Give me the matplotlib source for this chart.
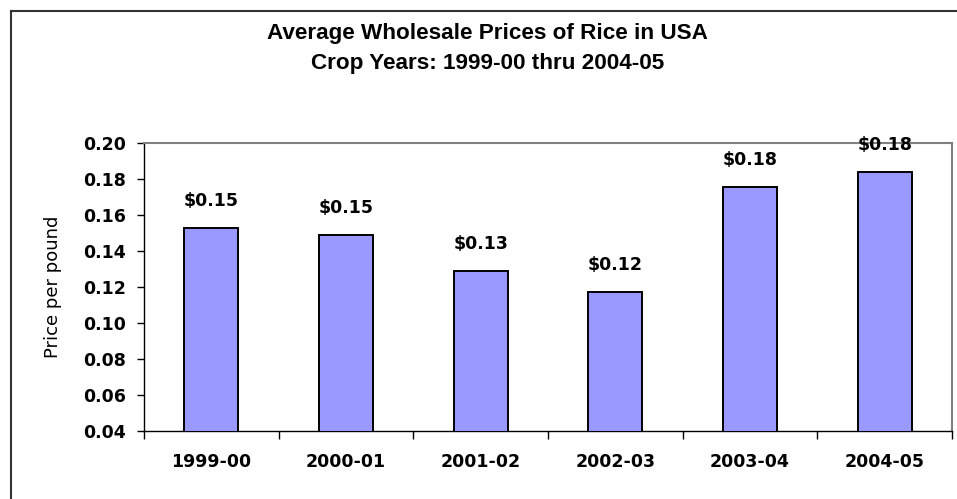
import matplotlib
matplotlib.use("Agg")
import matplotlib.pyplot as plt
from matplotlib.lines import Line2D
import numpy as np

plt.rcParams['font.family'] = ['Liberation Sans', 'DejaVu Sans']

# crop years and average prices (dollars per pound)
years = ['1999-00', '2000-01', '2001-02', '2002-03', '2003-04', '2004-05']
prices = [0.153, 0.149, 0.129, 0.117, 0.1755, 0.184]
yticks = [0.04, 0.06, 0.08, 0.10, 0.12, 0.14, 0.16, 0.18, 0.20]

W, H = 957, 499
fig = plt.figure(figsize=(W / 100, H / 100), dpi=100)
ax = fig.add_axes([144 / W, 1 - 431 / H, (952 - 144) / W, (431 - 143) / H])

# the axis text in the original is a wide bold face
wide = dict(family='DejaVu Sans', fontweight='bold', fontsize=12.5)

x = np.arange(len(years))
ax.bar(x, prices, width=0.4, color='#9999ff', edgecolor='black', linewidth=1.4, zorder=3)

for xi, v in zip(x, prices):
    ax.annotate(f"${v:.2f}", (xi, v), xytext=(0, 19.5), textcoords='offset points',
                ha='center', va='center', clip_on=False, **wide)

ax.set_xlim(-0.5, len(years) - 0.5)
ax.set_ylim(0.04, 0.20)
ax.set_yticks(yticks)
ax.set_yticklabels([f"{t:.2f}" for t in yticks], **wide)
ax.tick_params(axis='y', direction='out', length=5, width=1, pad=8)

# ticks between categories, labels at the centres
ax.set_xticks(np.arange(len(years) + 1) - 0.5)
ax.set_xticklabels([''] * (len(years) + 1))
ax.set_xticks(x, minor=True)
ax.set_xticklabels(years, minor=True, **wide)
ax.tick_params(axis='x', which='major', direction='out', length=6, width=1)
ax.tick_params(axis='x', which='minor', length=0, pad=16)

ax.set_ylabel('Price per pound', family='DejaVu Sans', fontsize=13)
ax.yaxis.set_label_coords(61.5 / W, 1 - 287 / H, transform=fig.transFigure)

for s in ['left', 'bottom']:
    ax.spines[s].set_color('black')
    ax.spines[s].set_linewidth(1)
for s in ['top', 'right']:
    ax.spines[s].set_color('#808080')
    ax.spines[s].set_linewidth(1.5)

fig.text(0.5095, 1 - 33 / H, 'Average Wholesale Prices of Rice in USA',
         ha='center', va='center', fontsize=16.2, fontweight='bold')
fig.text(0.5095, 1 - 63 / H, 'Crop Years: 1999-00 thru 2004-05',
         ha='center', va='center', fontsize=16.2, fontweight='bold')

# outer chart frame (top and left edges visible)
fig.add_artist(Line2D([11 / W, 1], [1 - 11 / H, 1 - 11 / H], color='#333333', lw=1.5))
fig.add_artist(Line2D([11 / W, 11 / W], [0, 1 - 11 / H], color='#333333', lw=1.5))

fig.savefig('out.png', dpi=100)
